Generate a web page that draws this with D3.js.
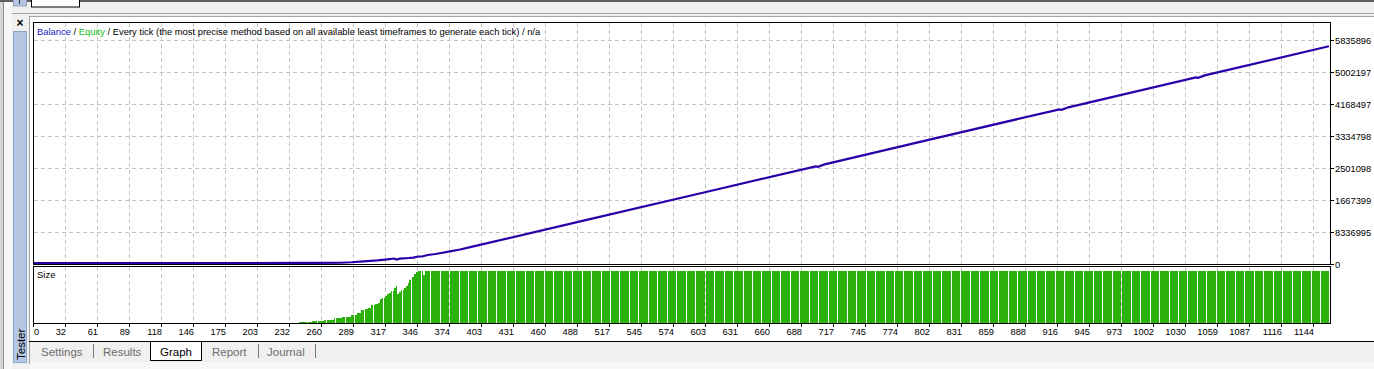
<!DOCTYPE html>
<html><head><meta charset="utf-8">
<script src="https://cdn.jsdelivr.net/npm/d3@7"></script>
<style>
html,body{margin:0;padding:0;background:#f0f0f0;overflow:hidden}
svg{display:block}
text{font-family:"Liberation Sans",Arial,sans-serif;white-space:pre}
</style></head><body>
<svg id="c" width="1374" height="369"></svg>
<script>
// ---------------- DATA ----------------
const xTickLabels = ["0","32","61","89","118","146","175","203","232","260","289","317","346","374","403","431","460","488","517","545","574","603","631","660","688","717","745","774","802","831","859","888","916","945","973","1002","1030","1059","1087","1116","1144"];
const yTickValues = [0, 833699, 1667399, 2501098, 3334798, 4168497, 5002197, 5835896];
const yTickLabels = ["0", "8336995", "1667399", "2501098", "3334798", "4168497", "5002197", "5835896"];
const tradeCount = 1160;
const balanceTrade = [0, 150, 240, 275, 285, 296, 308, 317, 323, 325, 328, 336, 340, 345, 348, 353, 360, 365, 373, 382, 391, 500, 600, 700, 702, 708, 800, 918, 920, 926, 1040, 1042, 1048, 1159];
const balanceValue = [24000, 25000, 27000, 32000, 45000, 70000, 96000, 122000, 143000, 118000, 141000, 156000, 167000, 195000, 195000, 234000, 260000, 287000, 331000, 378000, 438000, 1181000, 1863000, 2544000, 2532000, 2596000, 3226000, 4030000, 4015000, 4082000, 4862000, 4850000, 4914000, 5673000];
// lot size per trade, as runs: [start, end) -> lots
const sizeRunStart = [0, 120, 200, 238, 250, 261, 270, 277, 285, 290, 294, 297, 300, 303, 306, 309, 311, 313, 315, 317, 319, 321, 323, 325, 326, 328, 330, 332, 334, 336, 337, 339, 341, 343, 345, 349, 351];
const sizeRunEnd   = [120, 200, 238, 250, 261, 270, 277, 285, 290, 294, 297, 300, 303, 306, 309, 311, 313, 315, 317, 319, 321, 323, 325, 326, 328, 330, 332, 334, 336, 337, 339, 341, 343, 345, 349, 351, 1160];
const sizeRunLots  = [0.1, 0.2, 0.4, 1.0, 1.9, 2.9, 4.5, 5.8, 7.7, 9.6, 12.5, 13.5, 14.4, 17.3, 18.3, 19.2, 23.1, 24.5, 26.0, 27.9, 28.8, 30.8, 33.2, 35.6, 27.9, 29.8, 31.7, 33.7, 35.6, 38.5, 41.3, 44.2, 47.1, 49.0, 50, 46.2, 50];
const sizeMax = 50;
const headerParts = ["Balance", " / ", "Equity", " / Every tick (the most precise method based on all available least timeframes to generate each tick) / n/a"];
const headerColors = ["#1818c8", "#000000", "#20c020", "#000000"];
const tabNames = ["Settings", "Results", "Graph", "Report", "Journal"];
const activeTab = "Graph";

// ---------------- LAYOUT ----------------
const L = {left: 33, right: 1330, mainTop: 22, mainBottom: 264, subTop: 266, subBottom: 323, yTop: 40, barTop: 271, tickEnd: 1313};
const tabX = [41, 103, 160, 212, 267];
const sepX = [93, 258, 315];

const svg = d3.select("#c");

// ---------------- WINDOW CHROME ----------------
svg.append("rect").attr("x",0).attr("y",0).attr("width",1374).attr("height",369).attr("fill","#f0f0f0");
svg.append("rect").attr("x",0).attr("y",0).attr("width",1374).attr("height",2).attr("fill","#5f5f5f");
svg.append("rect").attr("x",30).attr("y",17).attr("width",1344).attr("height",324).attr("fill","#ffffff");
svg.append("line").attr("x1",12).attr("x2",1374).attr("y1",13.5).attr("y2",13.5).attr("stroke","#a5a5a5");
svg.append("line").attr("x1",29).attr("x2",1374).attr("y1",16.5).attr("y2",16.5).attr("stroke","#a5a5a5");
svg.append("rect").attr("x",0).attr("y",2).attr("width",3).attr("height",367).attr("fill","#d6d6d6");
svg.append("line").attr("x1",3.5).attr("x2",3.5).attr("y1",2).attr("y2",369).attr("stroke","#8c8c8c");
svg.append("rect").attr("x",4).attr("y",2).attr("width",8).attr("height",367).attr("fill","#f7f7f7");
svg.append("line").attr("x1",29.5).attr("x2",29.5).attr("y1",16).attr("y2",364).attr("stroke","#a0a0a0");
// sidebar
svg.append("rect").attr("x",13.5).attr("y",31.5).attr("width",13).attr("height",331).attr("fill","#b4c6e2").attr("stroke","#8da5c9");
svg.append("rect").attr("x",13.5).attr("y",-1).attr("width",13).attr("height",7).attr("fill","#b4c6e2").attr("stroke","#8da5c9");
svg.append("line").attr("x1",19.5).attr("x2",19.5).attr("y1",0).attr("y2",4).attr("stroke","#333");
svg.append("rect").attr("x",31.5).attr("y",-1).attr("width",48).attr("height",8).attr("fill","#ffffff").attr("stroke","#000");
svg.append("text").attr("x",20).attr("y",27).attr("text-anchor","middle").style("font-size","12px").style("font-weight","bold").text("×");
svg.append("text").attr("transform","translate(24.5,360) rotate(-90)").style("font-size","11.5px").attr("fill","#000").text("Tester");
// tab bar
svg.append("rect").attr("x",30).attr("y",342).attr("width",1344).attr("height",20).attr("fill","#f0f0f0");
svg.append("rect").attr("x",30).attr("y",362).attr("width",1344).attr("height",7).attr("fill","#f8f8f8");
svg.append("line").attr("x1",29).attr("x2",1374).attr("y1",341.5).attr("y2",341.5).attr("stroke","#000");
svg.append("rect").attr("x",150.5).attr("y",341.5).attr("width",51).attr("height",19).attr("fill","#ffffff").attr("stroke","#000");
svg.selectAll("text.tab").data(tabNames).join("text").attr("class","tab")
  .attr("x",(d,i)=>tabX[i]).attr("y",355.5).style("font-size","11.5px")
  .attr("fill",d=>d===activeTab?"#000":"#6d6d6d").text(d=>d);
svg.selectAll("line.sep").data(sepX).join("line").attr("class","sep")
  .attr("x1",d=>d+0.5).attr("x2",d=>d+0.5).attr("y1",344).attr("y2",358).attr("stroke","#7a7a7a");

// ---------------- SCALES ----------------
const xs = d3.scaleLinear().domain([0, tradeCount]).range([L.left, L.right]);
const xTick = d3.scalePoint().domain(xTickLabels).range([L.left, L.tickEnd]);
const yb = d3.scaleLinear().domain([0, yTickValues[yTickValues.length-1]]).range([L.mainBottom, L.yTop]);
const ys = d3.scaleLinear().domain([0, sizeMax]).range([L.subBottom, L.barTop]);

// ---------------- GRID ----------------
const grid = svg.append("g").attr("stroke","#c4c4c4").attr("stroke-dasharray","4,3");
xTickLabels.slice(1).forEach(t => {
  const x = Math.round(xTick(t)) + 0.5;
  grid.append("line").attr("x1",x).attr("x2",x).attr("y1",L.mainTop+1).attr("y2",L.mainBottom);
  grid.append("line").attr("x1",x).attr("x2",x).attr("y1",L.subTop+1).attr("y2",L.subBottom);
});
yTickValues.slice(1).forEach(v => {
  const y = Math.round(yb(v)) + 0.5;
  grid.append("line").attr("x1",L.left+1).attr("x2",L.right).attr("y1",y).attr("y2",y);
});

// ---------------- SIZE BARS ----------------
const trades = d3.range(tradeCount).map(i => {
  const r = sizeRunStart.findIndex((s,k) => i >= s && i < sizeRunEnd[k]);
  return {i, lots: r >= 0 ? sizeRunLots[r] : 0};
});
svg.append("g").attr("shape-rendering","crispEdges").selectAll("rect").data(trades).join("rect")
  .attr("x", d => Math.floor(xs(d.i)))
  .attr("width", 1)
  .attr("y", d => Math.round(ys(d.lots)))
  .attr("height", d => L.subBottom - Math.round(ys(d.lots)))
  .attr("fill", "#2cb00c");

// ---------------- BALANCE LINE ----------------
svg.append("clipPath").attr("id","mc").append("rect").attr("x",L.left+1).attr("y",L.mainTop+1).attr("width",L.right-L.left-1).attr("height",L.mainBottom-L.mainTop-1);
const bal = balanceTrade.map((n,k) => ({n, v: balanceValue[k]}));
svg.append("path").datum(bal).attr("clip-path","url(#mc)")
  .attr("fill","none").attr("stroke","#2800a8").attr("stroke-width",2.2)
  .attr("d", d3.line().x(d=>xs(d.n)).y(d=>yb(d.v)));

// ---------------- FRAMES ----------------
const fr = svg.append("g").attr("fill","none").attr("stroke","#000").attr("shape-rendering","crispEdges");
fr.append("rect").attr("x",L.left+0.5).attr("y",L.mainTop+0.5).attr("width",L.right-L.left).attr("height",L.mainBottom-L.mainTop);
fr.append("rect").attr("x",L.left+0.5).attr("y",L.subTop+0.5).attr("width",L.right-L.left).attr("height",L.subBottom-L.subTop);

// ---------------- AXES ----------------
const ax = svg.append("g").attr("stroke","#000");
xTickLabels.forEach(t => {
  const x = Math.round(xTick(t)) + 0.5;
  ax.append("line").attr("x1",x).attr("x2",x).attr("y1",L.subBottom+1).attr("y2",L.subBottom+4);
});
yTickValues.forEach(v => {
  const y = Math.round(yb(v)) + 0.5;
  ax.append("line").attr("x1",L.right+1).attr("x2",L.right+4).attr("y1",y).attr("y2",y);
});
svg.selectAll("text.xl").data(xTickLabels).join("text").attr("class","xl")
  .attr("x",(d,i)=> i===0 ? L.left+1 : xTick(d)+1)
  .attr("y",334.5).attr("text-anchor",(d,i)=> i===0 ? "start" : "end")
  .style("font-size","9.3px").attr("fill","#000").text(d=>d);
svg.selectAll("text.yl").data(yTickValues).join("text").attr("class","yl")
  .attr("x",L.right+5).attr("y",d=>Math.round(yb(d))+0.5).attr("dy","0.36em")
  .style("font-size","9.3px").attr("fill","#000").text((d,i)=>yTickLabels[i]);

// ---------------- LABELS ----------------
const hdr = svg.append("text").attr("x",37).attr("y",35).style("font-size","10px");
headerParts.forEach((p,i) => hdr.append("tspan").attr("fill",headerColors[i]).text(p));
const w = hdr.node().getComputedTextLength();
if (w > 0) hdr.style("font-size", (10*504/w) + "px");
svg.append("text").attr("x",37).attr("y",278).style("font-size","9.5px").attr("fill","#000").text("Size");
</script>
</body></html>
